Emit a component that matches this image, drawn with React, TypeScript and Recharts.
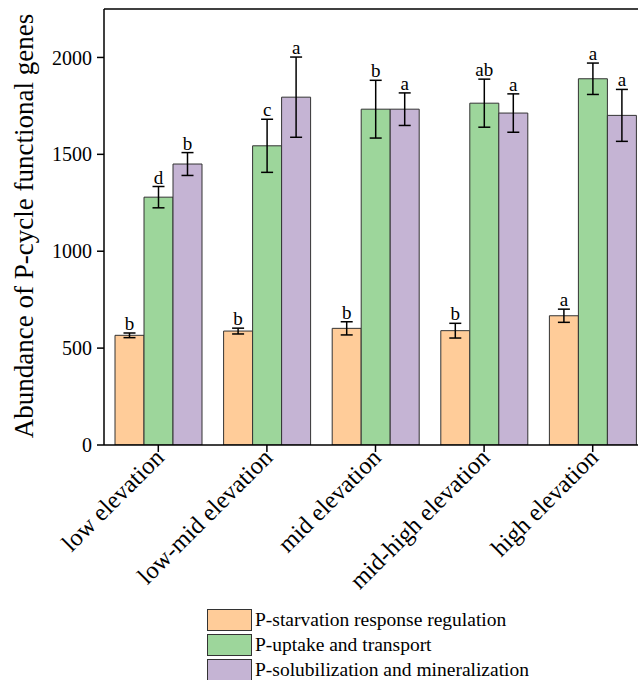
import React from 'react';
import { BarChart, Bar, XAxis, YAxis, ErrorBar, LabelList, ReferenceLine, Legend } from 'recharts';

const categories = ['low elevation', 'low-mid elevation', 'mid elevation', 'mid-high elevation', 'high elevation'];

const starvation = [566, 588, 602, 590, 667];
const starvationErr = [12, 15, 34, 38, 34];
const starvationSig = ['b', 'b', 'b', 'b', 'a'];

const uptake = [1279, 1544, 1733, 1764, 1890];
const uptakeErr = [55, 137, 149, 124, 81];
const uptakeSig = ['d', 'c', 'b', 'ab', 'a'];

const solub = [1450, 1795, 1733, 1713, 1701];
const solubErr = [59, 207, 84, 99, 134];
const solubSig = ['b', 'a', 'a', 'a', 'a'];

const seriesKeys = ['v1', 'v2', 'v3'];
const seriesNames = ['P-starvation response regulation', 'P-uptake and transport', 'P-solubilization and mineralization'];
const seriesColors = ['#FFCC99', '#9DD69B', '#C5B4D4'];
const yTicks = [0, 500, 1000, 1500, 2000];
const yMax = 2250;
const yLabel = 'Abundance of P-cycle functional genes';

const data = categories.map((c, i) => ({
  name: c,
  v1: starvation[i], e1: starvationErr[i], l1: starvationSig[i],
  v2: uptake[i], e2: uptakeErr[i], l2: uptakeSig[i],
  v3: solub[i], e3: solubErr[i], l3: solubSig[i],
}));

const FONT = '"Liberation Serif", "Times New Roman", serif';

const makeSigLabel = (valKey: string, errKey: string) => (props: any) => {
  const vb = props.viewBox || props;
  const { x, y, width, height } = vb;
  const idx = props.index;
  const row: any = data[idx];
  if (!row) return null;
  const val = row[valKey];
  const err = row[errKey];
  const scale = Math.abs(height) / val;
  const top = Math.min(y, y + height) - err * scale;
  return (
    <text x={x + width / 2} y={top - 3} textAnchor="middle" fontSize={19} fontFamily={FONT} fill="#000">
      {props.value}
    </text>
  );
};

const XTick = (props: any) => {
  const { x, y, payload } = props;
  return (
    <text
      x={0}
      y={0}
      transform={`translate(${x + 7},${y + 5}) rotate(-45)`}
      textAnchor="end"
      fontSize={24.5}
      fontFamily={FONT}
      fill="#000"
    >
      {payload.value}
    </text>
  );
};

const YLabel = (props: any) => {
  const vb = props.viewBox || { x: 0, y: 0, width: 0, height: 0 };
  const cx = 33;
  const cy = vb.y + vb.height / 2 - 1;
  return (
    <text
      x={0}
      y={0}
      transform={`translate(${cx},${cy}) rotate(-90)`}
      textAnchor="middle"
      fontSize={27}
      fontFamily={FONT}
      fill="#000"
    >
      {yLabel}
    </text>
  );
};

const LegendContent = (props: any) => {
  const payload: any[] = props.payload || [];
  const items = seriesKeys.map((k, i) => {
    const p = payload.find((q: any) => q.dataKey === k);
    return { value: p ? p.value : seriesNames[i], color: p ? p.color : seriesColors[i] };
  });
  return (
    <div style={{ fontFamily: FONT }}>
      {items.map((p: any, i: number) => (
        <div key={i} style={{ display: 'flex', alignItems: 'center', height: 25 }}>
          <div style={{ width: 43, height: 20, background: p.color, border: '1.5px solid #333', boxSizing: 'content-box' }} />
          <span style={{ marginLeft: 3, fontSize: 19.5, color: '#000', lineHeight: '22px' }}>{p.value}</span>
        </div>
      ))}
    </div>
  );
};

export default function App() {
  return (
    <div style={{ position: 'absolute', left: 0, top: 0, width: 638, height: 680, overflow: 'hidden', background: '#fff' }}>
      <BarChart
        width={660}
        height={680}
        data={data}
        margin={{ top: 9, right: 13, left: 0, bottom: 0 }}
        barGap={0}
        barSize={29}
      >
        <XAxis
          dataKey="name"
          height={235}
          interval={0}
          tick={<XTick />}
          tickSize={7}
          axisLine={{ stroke: '#000', strokeWidth: 1.5 }}
          tickLine={{ stroke: '#000', strokeWidth: 1.5 }}
        />
        <YAxis
          width={104}
          domain={[0, yMax]}
          ticks={yTicks}
          allowDataOverflow
          tickSize={7}
          tickMargin={5}
          axisLine={{ stroke: '#000', strokeWidth: 1.5 }}
          tickLine={{ stroke: '#000', strokeWidth: 1.5 }}
          tick={{ fontSize: 20, fontFamily: FONT, fill: '#000' }}
          label={<YLabel />}
        />
        <ReferenceLine y={yMax} stroke="#000" strokeWidth={1.5} />
        <Legend
          layout="vertical"
          align="center"
          verticalAlign="middle"
          wrapperStyle={{ left: 207, top: 607, width: 420, height: 75 }}
          content={<LegendContent />}
        />
        <Bar dataKey="v1" name={seriesNames[0]} fill={seriesColors[0]} stroke="#333" strokeWidth={1} isAnimationActive={false}>
          <ErrorBar dataKey="e1" width={6} stroke="#000" strokeWidth={1.5} direction="y" />
          <LabelList dataKey="l1" content={makeSigLabel('v1', 'e1')} />
        </Bar>
        <Bar dataKey="v2" name={seriesNames[1]} fill={seriesColors[1]} stroke="#333" strokeWidth={1} isAnimationActive={false}>
          <ErrorBar dataKey="e2" width={6} stroke="#000" strokeWidth={1.5} direction="y" />
          <LabelList dataKey="l2" content={makeSigLabel('v2', 'e2')} />
        </Bar>
        <Bar dataKey="v3" name={seriesNames[2]} fill={seriesColors[2]} stroke="#333" strokeWidth={1} isAnimationActive={false}>
          <ErrorBar dataKey="e3" width={6} stroke="#000" strokeWidth={1.5} direction="y" />
          <LabelList dataKey="l3" content={makeSigLabel('v3', 'e3')} />
        </Bar>
      </BarChart>
    </div>
  );
}
